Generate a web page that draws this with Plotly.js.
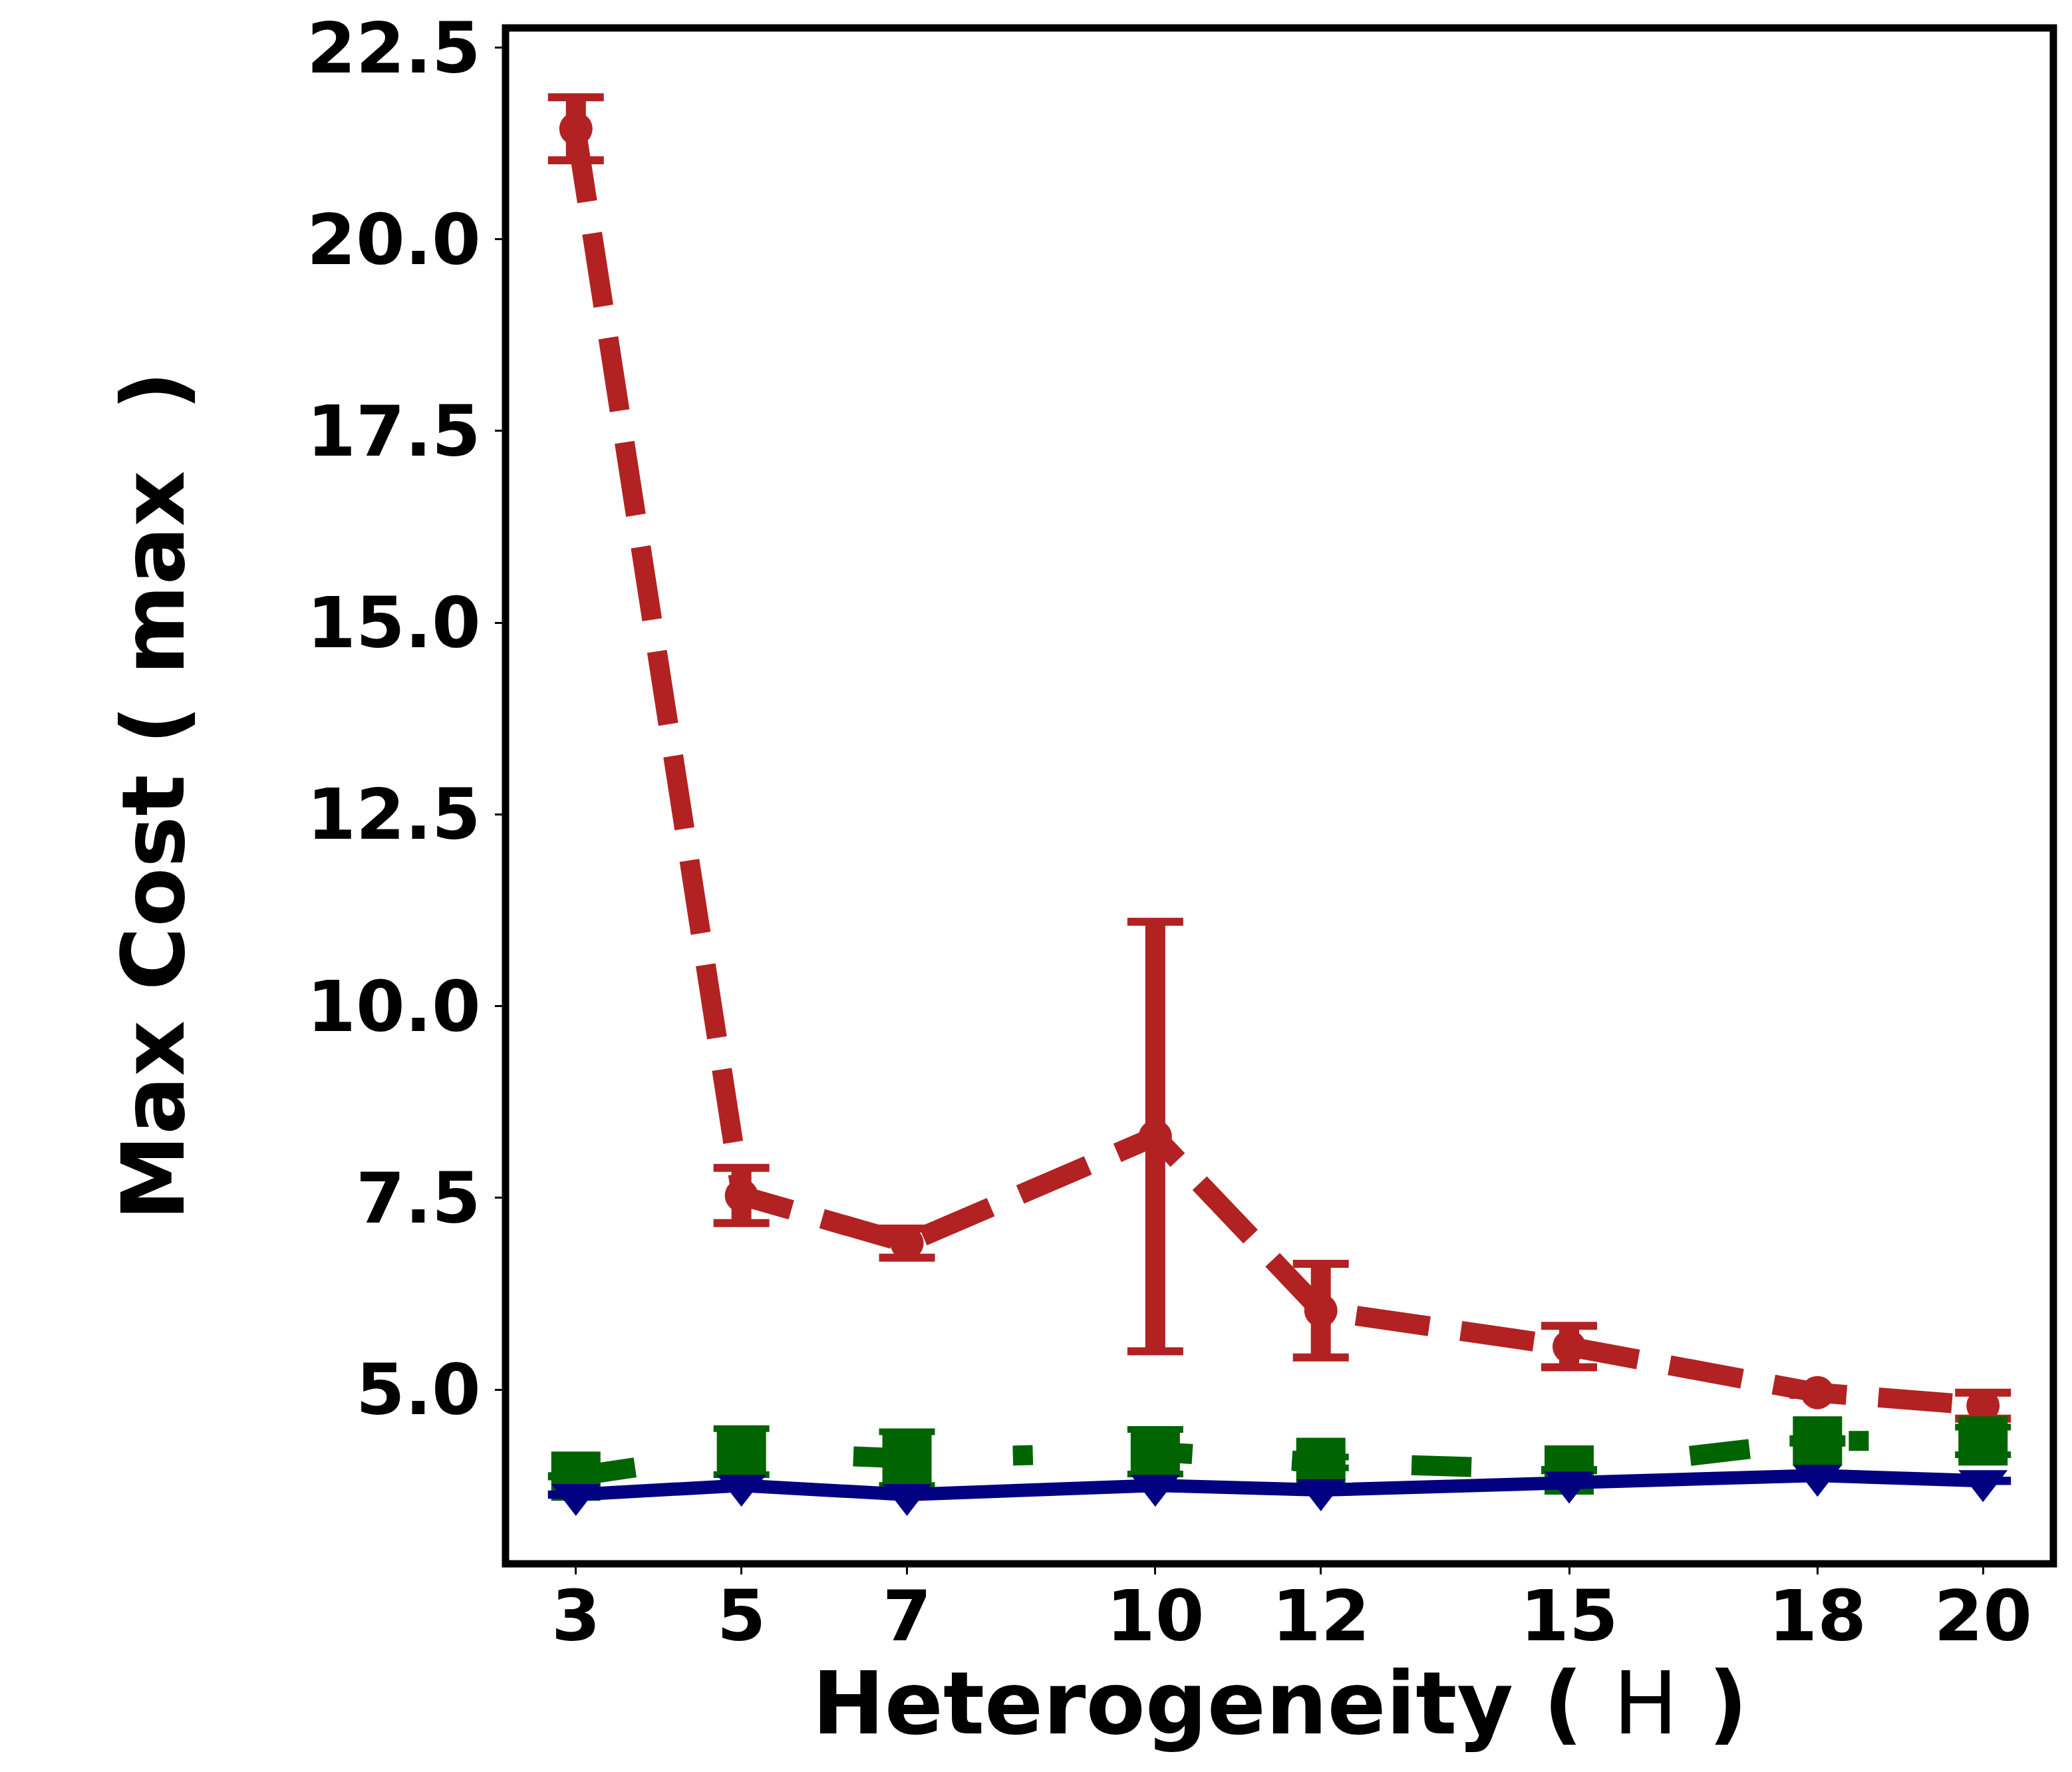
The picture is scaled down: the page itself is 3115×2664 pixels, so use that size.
<!DOCTYPE html>
<html>
<head>
<meta charset="utf-8">
<script src="https://cdn.plot.ly/plotly-3.0.1.min.js"></script>
<style>html,body{margin:0;padding:0;background:#fff;}</style>
</head>
<body>
<div id="chart" style="width:3115px;height:2664px;"></div>
<script>
// Heterogeneity levels (x)
const H = [3, 5, 7, 10, 12, 15, 18, 20];
// Red series (dashed, circles)
const redMean = [21.44, 7.53, 6.91, 8.30, 6.03, 5.56, 4.96, 4.79];
const redErr  = [0.41, 0.36, 0.19, 2.80, 0.61, 0.27, 0.03, 0.17];
// Green series (dash-dot, squares)
const greenMean = [3.87, 4.19, 4.10, 4.19, 4.05, 3.95, 4.33, 4.33];
const greenErr  = [0.01, 0.30, 0.35, 0.29, 0.07, 0.01, 0.03, 0.18];
// Blue series (solid, down triangles)
const blueMean = [3.63, 3.75, 3.63, 3.75, 3.69, 3.79, 3.88, 3.81];
const blueErr  = [0.02, 0.02, 0.02, 0.02, 0.02, 0.02, 0.02, 0.02];
// Tick labels
const xTicks = [3, 5, 7, 10, 12, 15, 18, 20];
const yTicks = [5.0, 7.5, 10.0, 12.5, 15.0, 17.5, 20.0, 22.5];
const yTickText = ['5.0', '7.5', '10.0', '12.5', '15.0', '17.5', '20.0', '22.5'];
const xTitle = 'Heterogeneity ( <span style="font-weight:normal">H</span> )';
const yTitle = 'Max Cost ( max\u00a0 )';

const RED = '#b22222', GREEN = '#006400', BLUE = '#000080';
const FONT = 'DejaVu Sans';

function series(y, err, color, lineStyle, marker, barThick, capThick) {
  const main = {
    x: H, y: y, type: 'scatter', mode: 'lines+markers',
    line: Object.assign({color: color}, lineStyle),
    marker: marker,
    error_y: {type: 'data', array: err, visible: true, color: color,
              thickness: barThick, width: 0},
    hoverinfo: 'x+y', showlegend: false
  };
  const caps = {
    x: H, y: y, type: 'scatter', mode: 'markers',
    marker: {size: 1, color: 'rgba(0,0,0,0)'},
    error_y: {type: 'data', array: err, visible: true, color: color,
              thickness: capThick, width: 42},
    hoverinfo: 'skip', showlegend: false
  };
  return [main, caps];
}

const data = [].concat(
  series(redMean, redErr, RED, {width: 30, dash: '111px,48px'},
         {symbol: 'circle', size: 50, color: RED}, 30, 12),
  series(greenMean, greenErr, GREEN, {width: 30, dash: '90px,150px,30px,150px'},
         {symbol: 'square', size: 74, color: GREEN}, 30, 10),
  series(blueMean, blueErr, BLUE, {width: 20},
         {symbol: 'triangle-down', size: 64, color: BLUE}, 8, 8)
);

const layout = {
  width: 3115, height: 2664,
  margin: {l: 760, r: 28, t: 42, b: 313, pad: 0},
  paper_bgcolor: '#ffffff', plot_bgcolor: '#ffffff',
  showlegend: false,
  font: {family: FONT, color: '#000000'},
  xaxis: {
    range: [2.15, 20.85], tickmode: 'array', tickvals: xTicks,
    ticktext: xTicks.map(String),
    ticks: 'outside', ticklen: 15, tickwidth: 3, tickcolor: '#000',
    ticklabelstandoff: -28,
    showgrid: false, zeroline: false, showline: false,
    tickfont: {family: FONT, size: 106, color: '#000', weight: 'bold'}
  },
  yaxis: {
    range: [2.728, 22.755], tickmode: 'array', tickvals: yTicks,
    ticktext: yTickText,
    ticks: 'outside', ticklen: 15, tickwidth: 3, tickcolor: '#000',
    showgrid: false, zeroline: false, showline: false,
    tickfont: {family: FONT, size: 106, color: '#000', weight: 'bold'},
    title: {text: yTitle,
            font: {family: FONT, size: 130, color: '#000', weight: 'bold'},
            standoff: 140}
  },
  annotations: [{
    text: xTitle, xref: 'paper', yref: 'paper', x: 0.5, y: 0,
    xanchor: 'center', yanchor: 'top', yshift: -132, showarrow: false,
    font: {family: FONT, size: 130, color: '#000', weight: 'bold'}
  }],
  shapes: [{
    type: 'rect', xref: 'paper', yref: 'paper', x0: 0, x1: 1, y0: 0, y1: 1,
    line: {color: '#000', width: 11}, fillcolor: 'rgba(0,0,0,0)', layer: 'above'
  }]
};

Plotly.newPlot('chart', data, layout, {staticPlot: true, displayModeBar: false});
</script>
</body>
</html>
